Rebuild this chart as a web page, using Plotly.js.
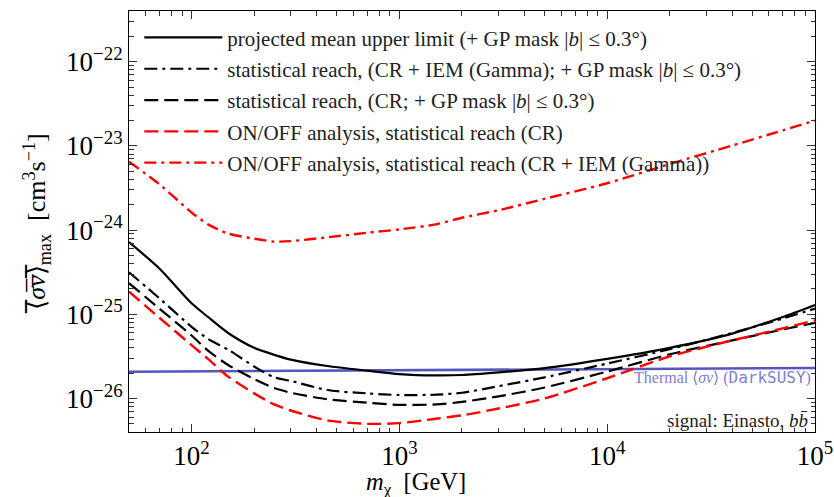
<!DOCTYPE html>
<html>
<head>
<meta charset="utf-8">
<script src="https://cdn.plot.ly/plotly-3.0.1.min.js"></script>
<style>html,body{margin:0;padding:0;background:#fff;}#chart{width:834px;height:497px;}</style>
</head>
<body>
<div id="chart"></div>
<script>
// DM mass grid [GeV]
const massGeV = [50, 70, 100, 120, 150, 200, 250, 300, 450, 700, 1000, 1500, 2000, 3000, 5000, 10000, 20000, 40000, 70000, 100000];

// <sigma v> upper limits / reach [cm^3 s^-1]
const projectedMeanUL = [7.2e-25, 3.5e-25, 1.35e-25, 9.3e-26, 6.0e-26, 4.0e-26, 3.3e-26, 2.9e-26, 2.43e-26, 2.14e-26, 1.95e-26, 1.88e-26, 1.9e-26, 2.04e-26, 2.29e-26, 2.95e-26, 4.0e-26, 5.9e-26, 9.3e-26, 1.29e-25];
const statReachCRIEM = [3.16e-25, 1.55e-25, 7.1e-26, 5.1e-26, 3.8e-26, 2.4e-26, 1.78e-26, 1.62e-26, 1.26e-26, 1.15e-26, 1.10e-26, 1.11e-26, 1.17e-26, 1.4e-26, 1.78e-26, 2.6e-26, 3.85e-26, 6.0e-26, 8.9e-26, 1.17e-25];
const statReachCR = [2.34e-25, 1.17e-25, 5.6e-26, 3.7e-26, 2.5e-26, 1.7e-26, 1.33e-26, 1.17e-26, 9.8e-27, 8.9e-27, 8.4e-27, 8.5e-27, 9.1e-27, 1.06e-26, 1.35e-26, 2.09e-26, 3.35e-26, 4.9e-26, 6.6e-26, 7.9e-26];
const onoffCR = [1.86e-25, 9.1e-26, 4.3e-26, 2.95e-26, 1.82e-26, 1.15e-26, 8.5e-27, 7.2e-27, 5.5e-27, 5.0e-27, 5.1e-27, 5.75e-27, 6.3e-27, 7.6e-27, 1.0e-26, 1.74e-26, 3.16e-26, 4.9e-26, 6.8e-26, 8.5e-26];
const onoffCRIEM = [6.5e-24, 3.5e-24, 1.62e-24, 1.17e-24, 9.1e-25, 7.9e-25, 7.3e-25, 7.4e-25, 8.2e-25, 9.3e-25, 1.02e-24, 1.17e-24, 1.4e-24, 1.72e-24, 2.35e-24, 3.6e-24, 6.1e-24, 1.01e-23, 1.53e-23, 2.0e-23];

// Thermal relic cross-section (DarkSUSY)
const thermalMass = [50, 200, 1000, 5000, 100000];
const thermalXS = [2.08e-26, 2.12e-26, 2.16e-26, 2.2e-26, 2.3e-26];

const seriesNames = [
  'projected mean upper limit (+ GP mask |<i>b</i>| ≤ 0.3°)',
  'statistical reach, (CR + IEM (Gamma); + GP mask |<i>b</i>| ≤ 0.3°)',
  'statistical reach, (CR; + GP mask |<i>b</i>| ≤ 0.3°)',
  'ON/OFF analysis, statistical reach (CR)',
  'ON/OFF analysis, statistical reach (CR + IEM (Gamma))'
];

// tick decades (labelled) and their minor subdivisions (2..9 x 10^n, unlabelled)
const xDecades = [1, 2, 3, 4, 5];
const yDecades = [-27, -26, -25, -24, -23, -22];

function buildTicks(decades) {
  const vals = [], text = [], major = [];
  decades.forEach(e => {
    vals.push(Math.pow(10, e));
    major.push(Math.pow(10, e));
    text.push('10<sup>' + String(e).replace('-', '−') + '</sup>');
    for (let k = 2; k <= 9; k++) { vals.push(k * Math.pow(10, e)); text.push(''); }
  });
  return {vals, text, major};
}
const xt = buildTicks(xDecades);
const yt = buildTicks(yDecades);

const serif = '"Liberation Serif", "Times New Roman", serif';
const xRange = [Math.log10(50), 5];
const yRange = [Math.log10(4e-27), Math.log10(4e-22)];

function mk(y, name, color, dash, width, grp) {
  return {x: massGeV, y: y, name: name, type: 'scatter', mode: 'lines',
    line: {color: color, dash: dash, width: width, shape: 'spline', smoothing: 0.7},
    legendgroup: grp};
}

const traces = [
  {x: thermalMass, y: thermalXS, type: 'scatter', mode: 'lines', showlegend: false,
   line: {color: 'rgba(55,55,175,0.85)', width: 2.6}, hoverinfo: 'skip'},
  mk(projectedMeanUL, seriesNames[0], '#000000', 'solid', 2.2, 'a'),
  mk(statReachCRIEM, seriesNames[1], '#000000', '13px,5px,3px,5px', 2.2, 'b'),
  mk(statReachCR, seriesNames[2], '#000000', '14px,6px', 2.2, 'c'),
  mk(onoffCR, seriesNames[3], '#ff0000', '14px,6px', 2.4, 'd'),
  mk(onoffCRIEM, seriesNames[4], '#ff0000', '12px,5px,3px,5px', 2.4, 'e'),
  // invisible helper so the overlay axes carrying the longer major ticks are drawn
  {x: thermalMass, y: thermalXS, xaxis: 'x2', yaxis: 'y2', type: 'scatter', mode: 'lines',
   line: {width: 0, color: 'rgba(0,0,0,0)'}, showlegend: false, hoverinfo: 'skip'}
];

const axisCommon = {
  type: 'log', showgrid: false, zeroline: false, showline: true, linecolor: '#000', linewidth: 1,
  mirror: 'allticks', ticks: 'inside', ticklen: 4.5, tickcolor: '#333', tickwidth: 1,
  tickmode: 'array', ticklabeloverflow: 'allow',
  tickfont: {family: serif, size: 27, color: '#000'}
};
const majorOverlay = {
  type: 'log', showgrid: false, zeroline: false, showline: false,
  mirror: 'allticks', ticks: 'inside', ticklen: 8, tickcolor: '#333', tickwidth: 1,
  tickmode: 'array', showticklabels: false
};

const layout = {
  width: 834, height: 497,
  margin: {l: 129, r: 19, t: 11, b: 65},
  paper_bgcolor: '#fff', plot_bgcolor: '#fff',
  showlegend: true,
  xaxis: Object.assign({}, axisCommon, {range: xRange, tickvals: xt.vals, ticktext: xt.text}),
  yaxis: Object.assign({}, axisCommon, {
    range: yRange, tickvals: yt.vals, ticktext: yt.text,
    title: {text: '⟨̅<i>σ̅v̅</i>⟩̅<sub>max</sub>  [cm<sup>3</sup>s<sup>−1</sup>]', font: {family: serif, size: 26, color: '#000'}, standoff: 12}
  }),
  xaxis2: Object.assign({}, majorOverlay, {range: xRange, tickvals: xt.major, overlaying: 'x', anchor: 'y2', side: 'bottom'}),
  yaxis2: Object.assign({}, majorOverlay, {range: yRange, tickvals: yt.major, overlaying: 'y', anchor: 'x2', side: 'left'}),
  legend: {
    x: 0.015, y: 0.985, xanchor: 'left', yanchor: 'top',
    bgcolor: 'rgba(0,0,0,0)', borderwidth: 0,
    font: {family: serif, size: 21, color: '#222'},
    itemwidth: 78, tracegroupgap: 1
  },
  annotations: [
    {xref: 'paper', yref: 'paper', x: 0.418, y: -0.123, xanchor: 'center', yanchor: 'middle', showarrow: false,
     text: '<i>m</i><sub>χ</sub>  [GeV]', font: {family: serif, size: 24.5, color: '#000'}},
    {xref: 'paper', yref: 'paper', x: 0.997, y: 0.13, xanchor: 'right', yanchor: 'middle', showarrow: false,
     text: 'Thermal ⟨<i>σv</i>⟩ (<span style="font-family:\'DejaVu Sans Mono\'">DarkSUSY</span>)',
     font: {family: serif, size: 16, color: 'rgba(90,90,200,0.8)'}},
    {xref: 'paper', yref: 'paper', x: 0.993, y: 0.028, xanchor: 'right', yanchor: 'middle', showarrow: false,
     text: 'signal: Einasto, <i>bb̄</i>',
     font: {family: serif, size: 19, color: '#222'}}
  ]
};

Plotly.newPlot('chart', traces, layout, {displayModeBar: false, staticPlot: true});
</script>
</body>
</html>
